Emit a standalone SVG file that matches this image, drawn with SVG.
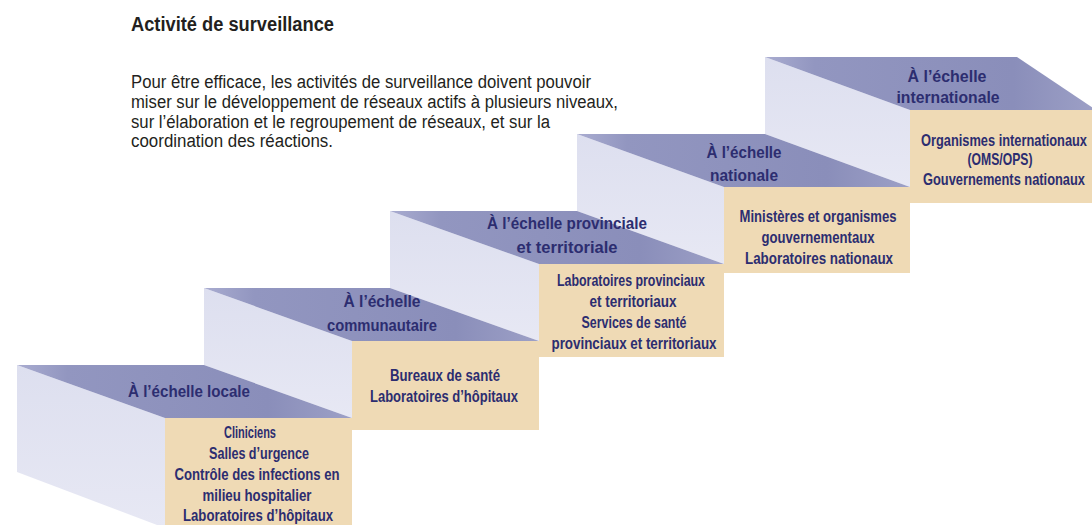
<svg xmlns="http://www.w3.org/2000/svg" width="1092" height="525" viewBox="0 0 1092 525">
<style>
.title{font-family:'Liberation Sans',Arial,sans-serif;font-weight:700;font-size:20px;fill:#231f20}
.para{font-family:'Liberation Sans',Arial,sans-serif;font-size:18px;fill:#231f20}
.lbl{font-family:'Liberation Sans',Arial,sans-serif;font-weight:700;font-size:16.5px;fill:#2c2d70;text-anchor:middle}
.side{fill:url(#gSide)}
.top{fill:url(#gTop)}
.front{fill:#efdab5}
</style>
<defs>
<linearGradient id="gTop" x1="0" y1="0" x2="1" y2="0">
<stop offset="0" stop-color="#a9acd0"/>
<stop offset="0.15" stop-color="#9296c0"/>
<stop offset="0.75" stop-color="#8a8eba"/>
<stop offset="1" stop-color="#9da0c6"/>
</linearGradient>
<linearGradient id="gSide" x1="0" y1="0" x2="0" y2="1">
<stop offset="0" stop-color="#dddfef"/>
<stop offset="1" stop-color="#e7e8f4"/>
</linearGradient>
</defs>
<g id="header">
<text class="title" x="131" y="31" textLength="203" lengthAdjust="spacingAndGlyphs">Activité de surveillance</text>
<text class="para" x="131" y="88" textLength="460" lengthAdjust="spacingAndGlyphs">Pour être efficace, les activités de surveillance doivent pouvoir</text>
<text class="para" x="131" y="108" textLength="487" lengthAdjust="spacingAndGlyphs">miser sur le développement de réseaux actifs à plusieurs niveaux,</text>
<text class="para" x="131" y="127.5" textLength="419" lengthAdjust="spacingAndGlyphs">sur l’élaboration et le regroupement de réseaux, et sur la</text>
<text class="para" x="131" y="147" textLength="202" lengthAdjust="spacingAndGlyphs">coordination des réactions.</text>
</g>
<g id="step-internationale">
<polygon class="side" points="765,57 910,110 910,187 765,134"/>
<polygon class="top" points="765,57 1017,57 1096,110 910,110"/>
<rect class="front" x="910" y="110" width="186" height="93"/>
<text class="lbl" x="947" y="82" textLength="79" lengthAdjust="spacingAndGlyphs">À l’échelle</text>
<text class="lbl" x="948" y="103" textLength="103" lengthAdjust="spacingAndGlyphs">internationale</text>
<text class="lbl" x="1004" y="146" textLength="166" lengthAdjust="spacingAndGlyphs">Organismes internationaux</text>
<text class="lbl" x="1000" y="165" textLength="65" lengthAdjust="spacingAndGlyphs">(OMS/OPS)</text>
<text class="lbl" x="1004" y="185" textLength="162" lengthAdjust="spacingAndGlyphs">Gouvernements nationaux</text>
</g>
<g id="step-nationale">
<polygon class="side" points="577,134 724,187 724,264 577,211"/>
<polygon class="top" points="577,134 765,134 910,187 724,187"/>
<rect class="front" x="724" y="187" width="186" height="86"/>
<text class="lbl" x="744" y="158" textLength="75" lengthAdjust="spacingAndGlyphs">À l’échelle</text>
<text class="lbl" x="744" y="181" textLength="68" lengthAdjust="spacingAndGlyphs">nationale</text>
<text class="lbl" x="818" y="222" textLength="157" lengthAdjust="spacingAndGlyphs">Ministères et organismes</text>
<text class="lbl" x="818" y="243" textLength="113" lengthAdjust="spacingAndGlyphs">gouvernementaux</text>
<text class="lbl" x="819" y="264" textLength="148" lengthAdjust="spacingAndGlyphs">Laboratoires nationaux</text>
</g>
<g id="step-provinciale">
<polygon class="side" points="390,211 539,264 539,341 390,288"/>
<polygon class="top" points="390,211 577,211 724,264 539,264"/>
<rect class="front" x="539" y="264" width="185" height="93"/>
<text class="lbl" x="567" y="229" textLength="160" lengthAdjust="spacingAndGlyphs">À l’échelle provinciale</text>
<text class="lbl" x="567" y="253" textLength="101" lengthAdjust="spacingAndGlyphs">et territoriale</text>
<text class="lbl" x="631" y="286" textLength="148" lengthAdjust="spacingAndGlyphs">Laboratoires provinciaux</text>
<text class="lbl" x="633" y="307" textLength="87" lengthAdjust="spacingAndGlyphs">et territoriaux</text>
<text class="lbl" x="634" y="328" textLength="105" lengthAdjust="spacingAndGlyphs">Services de santé</text>
<text class="lbl" x="634" y="349" textLength="165" lengthAdjust="spacingAndGlyphs">provinciaux et territoriaux</text>
</g>
<g id="step-communautaire">
<polygon class="side" points="204,288 352,341 352,418 204,365"/>
<polygon class="top" points="204,288 390,288 539,341 352,341"/>
<rect class="front" x="352" y="341" width="187" height="89"/>
<text class="lbl" x="382" y="307" textLength="77" lengthAdjust="spacingAndGlyphs">À l’échelle</text>
<text class="lbl" x="382" y="331" textLength="110" lengthAdjust="spacingAndGlyphs">communautaire</text>
<text class="lbl" x="445" y="381" textLength="110" lengthAdjust="spacingAndGlyphs">Bureaux de santé</text>
<text class="lbl" x="444" y="402" textLength="148" lengthAdjust="spacingAndGlyphs">Laboratoires d’hôpitaux</text>
</g>
<g id="step-locale">
<polygon class="side" points="17,365 165,418 165,528 17,472"/>
<polygon class="top" points="17,365 204,365 352,418 165,418"/>
<rect class="front" x="165" y="418" width="187" height="110"/>
<text class="lbl" x="189" y="397" textLength="122" lengthAdjust="spacingAndGlyphs">À l’échelle locale</text>
<text class="lbl" x="250" y="438" textLength="52" lengthAdjust="spacingAndGlyphs">Cliniciens</text>
<text class="lbl" x="259" y="459" textLength="100" lengthAdjust="spacingAndGlyphs">Salles d’urgence</text>
<text class="lbl" x="257" y="480" textLength="165" lengthAdjust="spacingAndGlyphs">Contrôle des infections en</text>
<text class="lbl" x="257" y="501" textLength="109" lengthAdjust="spacingAndGlyphs">milieu hospitalier</text>
<text class="lbl" x="258" y="521" textLength="150" lengthAdjust="spacingAndGlyphs">Laboratoires d’hôpitaux</text>
</g>
<g id="connectors"/>
</svg>
